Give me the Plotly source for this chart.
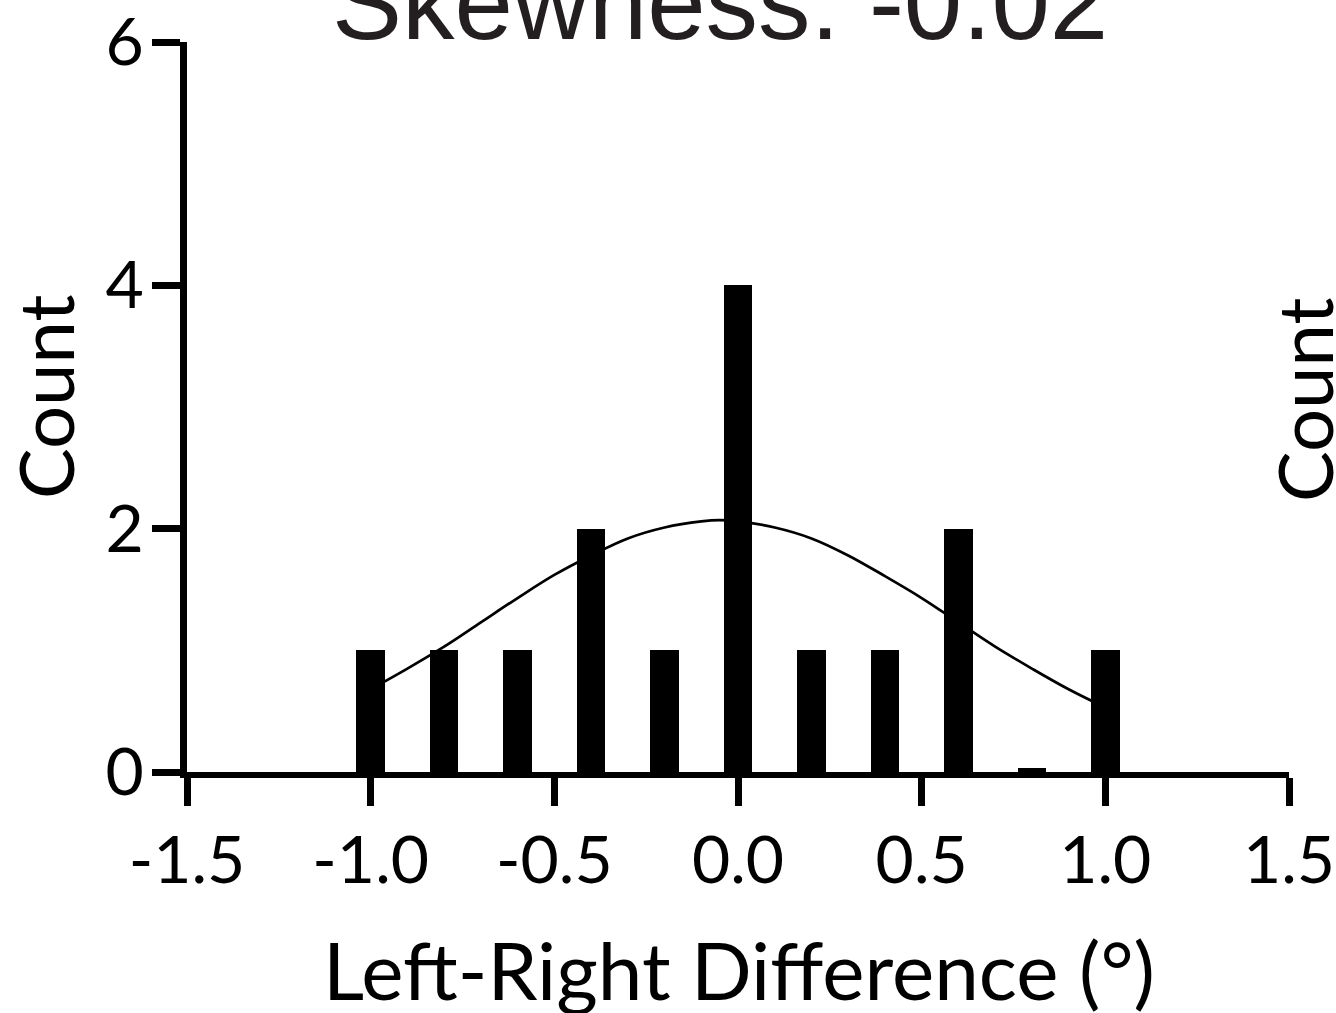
import plotly.graph_objects as go

# Data
bin_centers = [-1.0, -0.8, -0.6, -0.4, -0.2, 0.0, 0.2, 0.4, 0.6, 0.8, 1.0]
counts = [1, 1, 1, 2, 1, 4, 1, 1, 2, 0.03, 1]

curve_x = [-1.0, -0.9, -0.8, -0.7, -0.6, -0.5, -0.4, -0.3, -0.2, -0.1, -0.05, 0.0,
           0.1, 0.2, 0.3, 0.4, 0.5, 0.6, 0.7, 0.8, 0.9, 1.0]
curve_y = [0.68, 0.85, 1.03, 1.23, 1.43, 1.62, 1.78, 1.92, 2.01, 2.06, 2.07, 2.06,
           2.01, 1.92, 1.78, 1.61, 1.43, 1.23, 1.03, 0.85, 0.68, 0.53]

x_ticks = [-1.5, -1.0, -0.5, 0.0, 0.5, 1.0, 1.5]
x_ticklabels = ["-1.5", "-1.0", "-0.5", "0.0", "0.5", "1.0", "1.5"]
y_ticks = [0, 2, 4, 6]

title_text = "Skewness: -0.02"
x_title = "Left-Right Difference (°)"
y_title = "Count"

W, H = 1336, 1013
L, R, T, B = 187, 47, 42, 241
PW, PH = W - L - R, H - T - B


def px_x(px):
    return (px - L) / PW


def px_y(py):
    return (H - B - py) / PH


fig = go.Figure()
fig.add_trace(go.Scatter(x=curve_x, y=curve_y, mode="lines",
                         line=dict(color="black", width=2.7, shape="spline"),
                         hoverinfo="skip", showlegend=False))
fig.add_trace(go.Bar(x=bin_centers, y=counts, width=0.078,
                     marker=dict(color="black", line=dict(width=0)), showlegend=False))

sans = "Lato, Open Sans, sans-serif"
tick_font = dict(family=sans, size=66, color="black")

fig.update_layout(
    width=W, height=H,
    margin=dict(l=L, r=R, t=T, b=B, autoexpand=False),
    paper_bgcolor="white", plot_bgcolor="white",
    xaxis=dict(range=[-1.5, 1.5], tickvals=x_ticks, ticktext=x_ticklabels, showgrid=False, zeroline=False,
               showline=True, linecolor="black", linewidth=6, ticks="outside", ticklen=28, tickwidth=7,
               tickcolor="black", tickfont=tick_font, ticklabelstandoff=-2, automargin=False),
    yaxis=dict(range=[0, 6], tickvals=y_ticks, showgrid=False, zeroline=False,
               showline=True, linecolor="black", linewidth=7, ticks="outside", ticklen=28, tickwidth=7,
               tickcolor="black", tickfont=tick_font, ticklabelstandoff=-5, automargin=False),
    bargap=0,
)

fig.add_annotation(text=x_title, xref="paper", yref="paper", x=px_x(739), y=px_y(969),
                   xanchor="center", yanchor="middle", showarrow=False,
                   font=dict(family=sans, size=80, color="black"))
fig.add_annotation(text=y_title, xref="paper", yref="paper", x=px_x(45), y=px_y(397),
                   xanchor="center", yanchor="middle", textangle=-90, showarrow=False,
                   font=dict(family=sans, size=76, color="black"))
fig.add_annotation(text=y_title, xref="paper", yref="paper", x=px_x(1303), y=px_y(400),
                   xanchor="center", yanchor="middle", textangle=-90, showarrow=False,
                   font=dict(family=sans, size=76, color="black"))
fig.add_annotation(text=title_text, xref="paper", yref="paper", x=px_x(720), y=px_y(2),
                   xanchor="center", yanchor="middle", showarrow=False,
                   font=dict(family="Liberation Sans, Arial", size=105, color="#231f20"))

fig.write_html("out.html", config={"displayModeBar": False},
               post_script="document.body.style.margin='0px';document.body.style.overflow='hidden';")
